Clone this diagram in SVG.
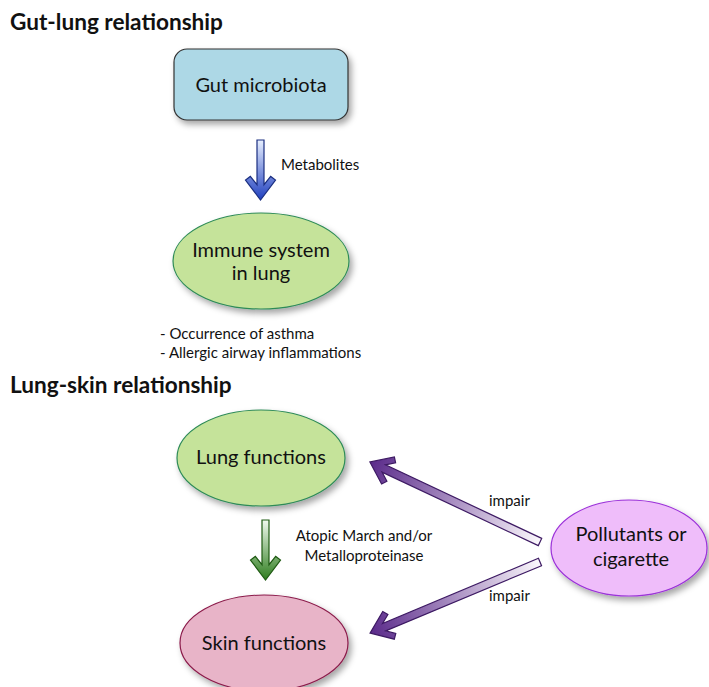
<svg xmlns="http://www.w3.org/2000/svg" width="709" height="687" viewBox="0 0 709 687">
<style>
text{font-family:Lato,"Open Sans","Liberation Sans",sans-serif;fill:#111}
.title{font-weight:bold;font-size:22.6px}
.node{font-size:20px;text-anchor:middle}
.lbl{font-size:15px}
.arrow{stroke-width:1.2;stroke-linejoin:miter}
</style>
<defs>
<filter id="sh" x="-20%" y="-20%" width="150%" height="150%">
<feDropShadow dx="3" dy="4" stdDeviation="3" flood-color="#000" flood-opacity="0.35"/>
</filter>
<linearGradient id="gBlue" x1="0" y1="0" x2="1" y2="0">
<stop offset="0" stop-color="#e8f0ff"/><stop offset="1" stop-color="#1f3fbf"/>
</linearGradient>
<linearGradient id="gGreen" x1="0" y1="0" x2="1" y2="0">
<stop offset="0" stop-color="#f0faee"/><stop offset="1" stop-color="#2e7d1e"/>
</linearGradient>
<linearGradient id="gPurple" x1="0" y1="0" x2="1" y2="0">
<stop offset="0" stop-color="#fbf8fc"/><stop offset="1" stop-color="#5a2a8a"/>
</linearGradient>
</defs>

<text class="title" x="10" y="30">Gut-lung relationship</text>
<text class="title" x="10" y="393">Lung-skin relationship</text>

<g id="gut">
<rect x="174" y="49" width="174" height="71" rx="13" fill="#add8e6" stroke="#333" stroke-width="1.2" filter="url(#sh)"/>
<text class="node" x="261" y="92">Gut microbiota</text>
</g>
<g id="immune">
<ellipse cx="261" cy="261" rx="88" ry="48" fill="#c5e39a" stroke="#2e8b57" stroke-width="1.2" filter="url(#sh)"/>
<text class="node" x="261" y="257">Immune system</text>
<text class="node" x="261" y="280">in lung</text>
</g>
<g id="outcomes">
<text class="lbl" x="160" y="339">- Occurrence of asthma</text>
<text class="lbl" x="160" y="358">- Allergic airway inflammations</text>
</g>
<g id="lung">
<ellipse cx="261" cy="458" rx="84" ry="48" fill="#c5e39a" stroke="#2e8b57" stroke-width="1.2" filter="url(#sh)"/>
<text class="node" x="261" y="464">Lung functions</text>
</g>
<g id="skin">
<ellipse cx="264" cy="643" rx="84" ry="48" fill="#e8b4c8" stroke="#8b1a4a" stroke-width="1.2" filter="url(#sh)"/>
<text class="node" x="264" y="650">Skin functions</text>
</g>
<g id="pollutants">
<ellipse cx="629" cy="548" rx="78" ry="48" fill="#efbdfa" stroke="#9b30d9" stroke-width="1.2" filter="url(#sh)"/>
<text class="node" x="631" y="541">Pollutants or</text>
<text class="node" x="631" y="566">cigarette</text>
</g>

<g id="connectors">
<path class="arrow" transform="translate(260.5,140) rotate(90)" fill="url(#gBlue)" stroke="#1a2e80" d="M0,-3.5 H44.7 L36.4,-10.2 L40,-15 L60,0 L40,15 L36.4,10.2 L44.7,3.5 H0 Z"/>
<text class="lbl" x="281" y="170">Metabolites</text>

<path class="arrow" transform="translate(265.5,520) rotate(90)" fill="url(#gGreen)" stroke="#1e5a12" d="M0,-3.5 H44.7 L36.4,-10.2 L40,-15 L60,0 L40,15 L36.4,10.2 L44.7,3.5 H0 Z"/>
<text class="lbl" x="364" y="541" text-anchor="middle">Atopic March and/or</text>
<text class="lbl" x="364" y="561" text-anchor="middle">Metalloproteinase</text>

<path class="arrow" transform="translate(540,542) rotate(205.2)" fill="url(#gPurple)" stroke="#3d1a63" d="M0,-4 H172.7 L164.4,-10.2 L168,-15 L188,0 L168,15 L164.4,10.2 L172.7,4 H0 Z"/>
<text class="lbl" x="489" y="506">impair</text>

<path class="arrow" transform="translate(540,562) rotate(157.3)" fill="url(#gPurple)" stroke="#3d1a63" d="M0,-4 H169 L160.6,-10.2 L164.2,-15 L184.2,0 L164.2,15 L160.6,10.2 L169,4 H0 Z"/>
<text class="lbl" x="489" y="601">impair</text>
</g>
</svg>
